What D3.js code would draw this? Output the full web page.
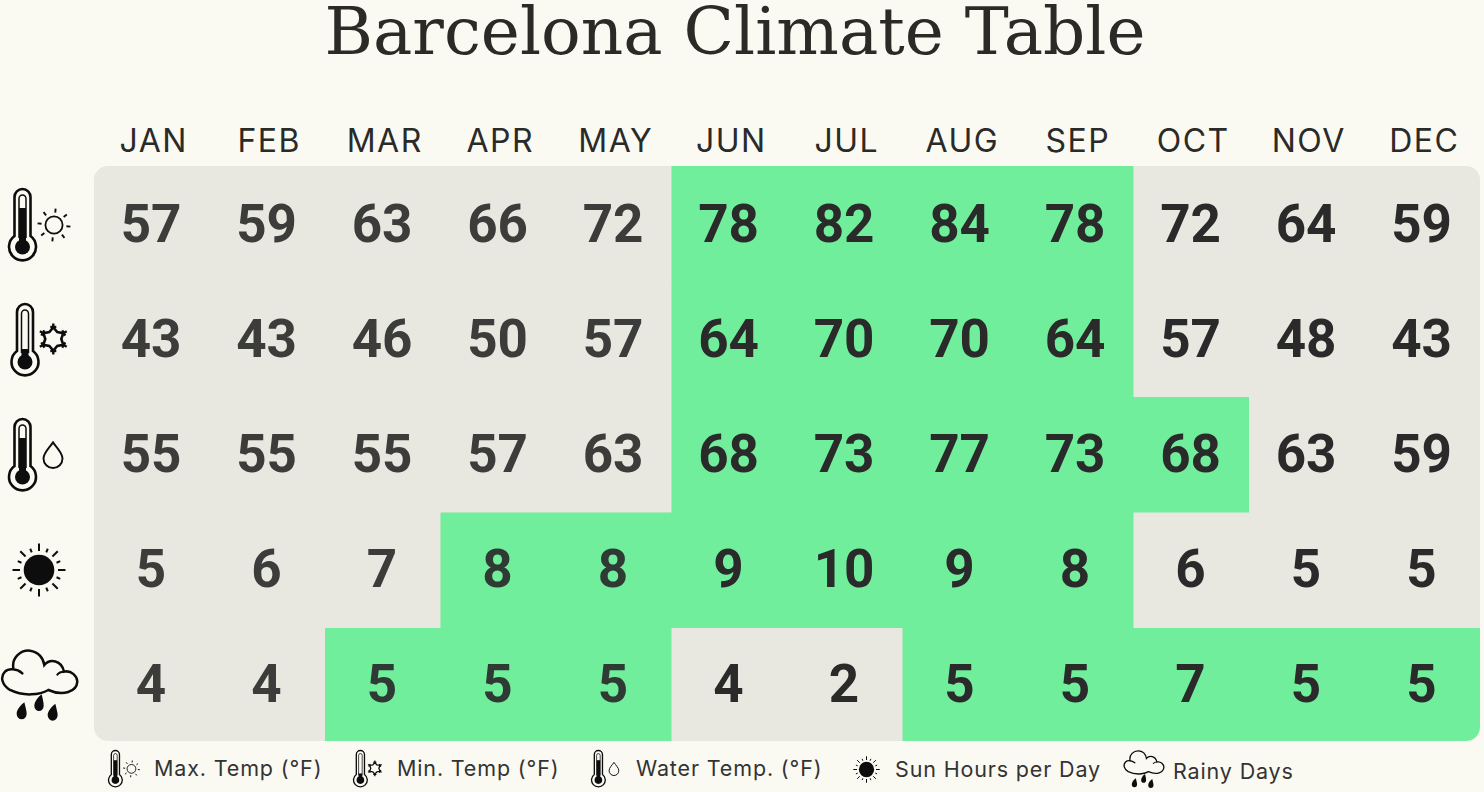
<!DOCTYPE html>
<html><head><meta charset="utf-8">
<script src="https://cdn.jsdelivr.net/npm/d3@7"></script>
<style>html,body{margin:0;padding:0;background:#fbfaf2;overflow:hidden}svg{display:block}</style>
</head><body><svg id="c" width="1484" height="792"></svg>
<script>
const title = "Barcelona Climate Table";
const months = ["JAN","FEB","MAR","APR","MAY","JUN","JUL","AUG","SEP","OCT","NOV","DEC"];
const rows = ["maxTemp","minTemp","waterTemp","sunHours","rainyDays"];
const maxTemp   = [57,59,63,66,72,78,82,84,78,72,64,59];
const minTemp   = [43,43,46,50,57,64,70,70,64,57,48,43];
const waterTemp = [55,55,55,57,63,68,73,77,73,68,63,59];
const sunHours  = [5,6,7,8,8,9,10,9,8,6,5,5];
const rainyDays = [4,4,5,5,5,4,2,5,5,7,5,5];
const highlightMaxTemp   = [0,0,0,0,0,1,1,1,1,0,0,0];
const highlightMinTemp   = [0,0,0,0,0,1,1,1,1,0,0,0];
const highlightWaterTemp = [0,0,0,0,0,1,1,1,1,1,0,0];
const highlightSunHours  = [0,0,0,1,1,1,1,1,1,0,0,0];
const highlightRainyDays = [0,0,1,1,1,0,0,1,1,1,1,1];
const legendLabels = ["Max. Temp (°F)","Min. Temp (°F)","Water Temp. (°F)","Sun Hours per Day","Rainy Days"];

const values = [maxTemp,minTemp,waterTemp,sunHours,rainyDays];
const highlights = [highlightMaxTemp,highlightMinTemp,highlightWaterTemp,highlightSunHours,highlightRainyDays];
const cells = rows.flatMap((r,i)=>months.map((m,j)=>({r,m,j,v:values[i][j],h:highlights[i][j]})));

const svg = d3.select("#c");
const x = d3.scaleBand().domain(months).range([94,1480]);
const y = d3.scaleBand().domain(rows).range([166,743.5]);
const yText = d3.scaleBand().domain(rows).range([166,741]);
const INK="#0d0d0d";

svg.append("defs").append("clipPath").attr("id","round").append("rect")
  .attr("x",94).attr("y",166).attr("width",1386).attr("height",575).attr("rx",14);

svg.append("text").attr("x",735).attr("y",54).attr("text-anchor","middle")
  .attr("font-family","'DejaVu Serif',serif").attr("font-size",66)
  .attr("fill","#2a2a26").text(title);

svg.append("g").selectAll("text").data(months).join("text")
  .attr("x",d=>x(d)+x.bandwidth()/2+2).attr("y",151.5).attr("text-anchor","middle")
  .attr("font-family","Inter,sans-serif").attr("font-size",32).attr("letter-spacing",1.5).attr("fill","#2a2a28").text(d=>d);

svg.append("g").attr("clip-path","url(#round)").selectAll("rect").data(cells).join("rect")
  .attr("x",d=>x(d.m)).attr("y",d=>y(d.r)).attr("width",x.bandwidth()+0.5).attr("height",y.bandwidth()+0.5)
  .attr("fill",d=>d.h?"#70ee9c":"#e8e7e0");

svg.append("g").selectAll("text").data(cells).join("text")
  .attr("x",d=>x(d.m)+x.bandwidth()/2-0.7).attr("y",d=>yText(d.r)+yText.bandwidth()/2+18)
  .attr("text-anchor","middle").attr("font-family","Roboto,sans-serif").attr("font-weight",700)
  .attr("font-size",53).attr("fill",d=>d.j<5&&!d.h?"#3c3c3a":d.j<5?"#2e3a33":"#2a2a2a").text(d=>d.v);

function thermo(g,ox,oy,level){
  const t=g.append("g").attr("transform",`translate(${ox},${oy})`);
  t.append("path").attr("d","M6.5 48V9a8 8 0 0 1 16 0V48A13.5 13.5 0 1 1 6.5 48Z")
    .attr("fill","none").attr("stroke",INK).attr("stroke-width",2.6);
  t.append("path").attr("d","M11 50V10.5a3.5 3.5 0 0 1 7 0V50").attr("fill","none").attr("stroke",INK).attr("stroke-width",1.5);
  t.append("rect").attr("x",11).attr("y",level).attr("width",7).attr("height",56-level).attr("fill",INK);
  t.append("circle").attr("cx",14.5).attr("cy",59).attr("r",7.5).attr("fill",INK);
}
function sunOutline(g,cx,cy){
  g.append("circle").attr("cx",cx).attr("cy",cy).attr("r",8.6).attr("fill","none").attr("stroke",INK).attr("stroke-width",1.8);
  d3.range(8).forEach(i=>{const a=i*Math.PI/4+0.1,c=Math.cos(a),s=Math.sin(a);
    g.append("line").attr("x1",cx+c*12.5).attr("y1",cy+s*12.5).attr("x2",cx+c*16.5).attr("y2",cy+s*16.5)
     .attr("stroke",INK).attr("stroke-width",1.9);});
}
function snow(g,cx,cy){
  g.append("path").attr("d",d3.range(12).map(i=>{const a=i*Math.PI/6-Math.PI/2,r=i%2?8:11.5;
    return (i?"L":"M")+(cx+Math.cos(a)*r)+" "+(cy+Math.sin(a)*r);}).join("")+"Z")
    .attr("fill","none").attr("stroke",INK).attr("stroke-width",2.6);
  d3.range(6).forEach(i=>{const a=i*Math.PI/3-Math.PI/2,c=Math.cos(a),s=Math.sin(a),px=cx+c*12,py=cy+s*12;
    g.append("line").attr("x1",px).attr("y1",py).attr("x2",px+c*3.5).attr("y2",py+s*3.5).attr("stroke",INK).attr("stroke-width",2.4);
    g.append("line").attr("x1",px-s*3).attr("y1",py+c*3).attr("x2",px+s*3).attr("y2",py-c*3).attr("stroke",INK).attr("stroke-width",2.4);});
}
function drop(g,cx,cy,r){
  g.append("path").attr("d",`M${cx} ${cy-r*1.5}C${cx+r*.4} ${cy-r*.9} ${cx+r} ${cy-r*.4} ${cx+r} ${cy+.2*r}A${r} ${r} 0 1 1 ${cx-r} ${cy+.2*r}C${cx-r} ${cy-r*.4} ${cx-r*.4} ${cy-r*.9} ${cx} ${cy-r*1.5}Z`)
   .attr("fill","none").attr("stroke",INK).attr("stroke-width",1.9);
}
function blackSun(g,cx,cy){
  g.append("circle").attr("cx",cx).attr("cy",cy).attr("r",15.3).attr("fill",INK);
  d3.range(16).forEach(i=>{const a=i*Math.PI/8,c=Math.cos(a),s=Math.sin(a),L=i%2?23:26.5;
    g.append("line").attr("x1",cx+c*19).attr("y1",cy+s*19).attr("x2",cx+c*L).attr("y2",cy+s*L).attr("stroke",INK).attr("stroke-width",2);});
}
function cloud(g){
  const c=g.append("g").attr("transform","translate(0,530) scale(0.3333)");
  c.append("path").attr("d","M40 415C35 385 60 360 90 362C115 365 130 385 133 405C150 385 185 390 192 425C215 420 232 440 232 455C230 485 190 500 145 480C120 495 70 500 30 480C5 465 0 440 15 425C25 415 50 415 67 430")
   .attr("fill","none").attr("stroke",INK).attr("stroke-width",7.5).attr("stroke-linecap","round");
  c.append("path").attr("d","M192 425C182 425 176 428 172 434").attr("fill","none").attr("stroke",INK).attr("stroke-width",6).attr("stroke-linecap","round");
  [[65,548,15],[117,524,14],[158,552,15]].forEach(([cx,cy,r])=>{
    c.append("path").attr("d",`M${cx+8} ${cy-31}C${cx+12} ${cy-14} ${cx+r} ${cy-4} ${cx+r} ${cy+3}A${r} ${r+2} 0 1 1 ${cx-r} ${cy+3}C${cx-r} ${cy-8} ${cx-4} ${cy-22} ${cx+8} ${cy-31}Z`).attr("fill",INK);
  });
}
const iconDraw = {
  maxTemp:g=>{thermo(g,8,188,20);sunOutline(g,54,225);},
  minTemp:g=>{thermo(g,10.5,303,46);snow(g,53.3,339);},
  waterTemp:g=>{thermo(g,8,418,20);drop(g,53,456.6,9.5);},
  sunHours:g=>blackSun(g,39,570),
  rainyDays:g=>cloud(g)
};
const icons = svg.append("g");
rows.forEach(r=>iconDraw[r](icons.append("g")));

const legendIcon = [[108,750,8,188,.51],[353,750,10.5,303,.51],[591,750,8,418,.51],[853,756,12,543,.5],[1124,751,2,651,.53]];
const legendTextX = [154,397,636,895,1173];
const legendTextY = [776,776,776,777,779];
const lg = svg.append("g");
rows.forEach((r,i)=>{
  const [lx,ly,ix,iy,k]=legendIcon[i];
  const g=lg.append("g").attr("transform",`translate(${lx},${ly}) scale(${k}) translate(${-ix},${-iy})`);
  iconDraw[r](g);
});
lg.selectAll("text").data(legendLabels).join("text")
  .attr("x",(d,i)=>legendTextX[i]).attr("y",(d,i)=>legendTextY[i])
  .attr("font-family","Inter,sans-serif").attr("font-size",21.5).attr("letter-spacing",0.85).attr("fill","#333").text(d=>d);
</script></body></html>
